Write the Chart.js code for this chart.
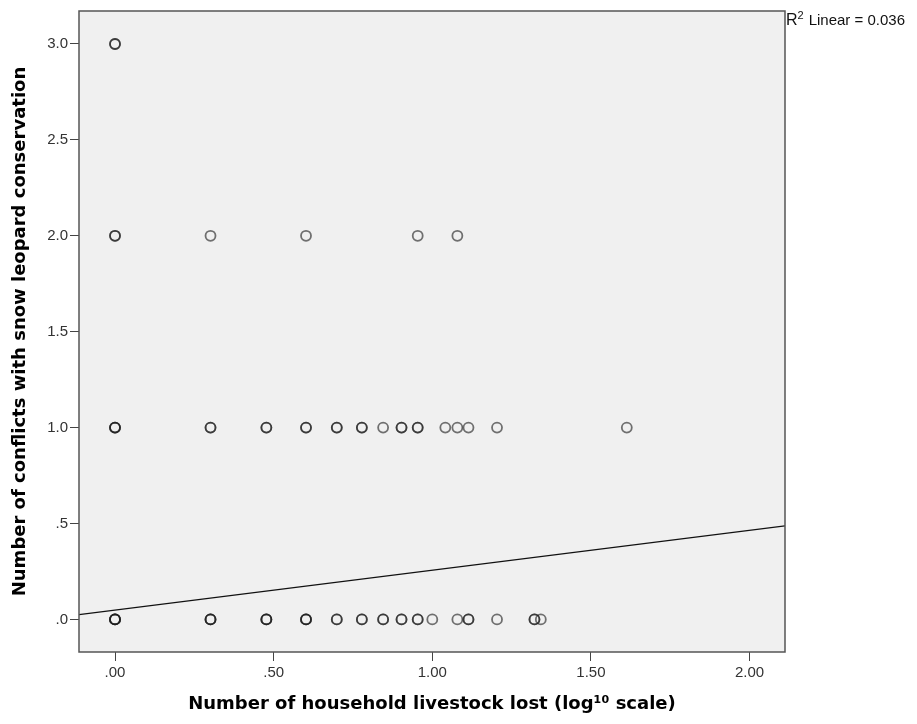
<!DOCTYPE html>
<html>
<head>
<meta charset="utf-8">
<style>
  html, body { margin: 0; padding: 0; background: #fff; }
  #wrap { width: 917px; height: 724px; }
</style>
<script src="https://cdn.jsdelivr.net/npm/chart.js@4.4.1/dist/chart.umd.min.js"></script>
</head>
<body>
<div id="wrap"><canvas id="scatter"></canvas></div>
<script>
// household livestock lost (log10), one entry per household, grouped by conflict count
const lostNoConflict = [0, 0, 0, 0, 0.301, 0.301, 0.301, 0.477, 0.477, 0.477, 0.602, 0.602, 0.602,
  0.699, 0.699, 0.778, 0.778, 0.845, 0.845, 0.903, 0.903, 0.954, 0.954, 1.0, 1.079,
  1.114, 1.114, 1.204, 1.322, 1.322, 1.342];
const lostOneConflict = [0, 0, 0, 0.301, 0.301, 0.477, 0.477, 0.602, 0.602, 0.699, 0.699,
  0.778, 0.778, 0.845, 0.903, 0.903, 0.954, 0.954, 1.041, 1.079, 1.114, 1.204, 1.613];
const lostTwoConflicts = [0, 0, 0.301, 0.602, 0.954, 1.079];
const lostThreeConflicts = [0, 0];
const conflictLevels = [0, 1, 2, 3];

// fitted linear regression
const fitIntercept = 0.048;
const fitSlope = 0.208;
const rSquared = '0.036';

const xRange = [-0.1135, 2.1116];
const yRange = [-0.17, 3.172];
const xTickValues = [0, 0.5, 1, 1.5, 2];
const xTickLabels = ['.00', '.50', '1.00', '1.50', '2.00'];
const yTickValues = [0, 0.5, 1, 1.5, 2, 2.5, 3];
const yTickLabels = ['.0', '.5', '1.0', '1.5', '2.0', '2.5', '3.0'];

const groups = [lostNoConflict, lostOneConflict, lostTwoConflicts, lostThreeConflicts];
const points = [];
groups.forEach((g, i) => g.forEach(x => points.push({ x: x, y: conflictLevels[i] })));

const fitLine = xRange.map(x => ({ x: x, y: fitIntercept + fitSlope * x }));

const tickFont = { family: 'Liberation Sans, Arial, sans-serif', size: 15 };
const titleFont = { family: 'DejaVu Sans, Verdana, sans-serif', size: 18, weight: 'bold' };

const plotFrame = {
  id: 'plotFrame',
  beforeDatasetsDraw(chart) {
    const { ctx, chartArea: a } = chart;
    ctx.save();
    ctx.fillStyle = '#f0f0f0';
    ctx.fillRect(a.left, a.top, a.right - a.left, a.bottom - a.top);
    ctx.restore();
  },
  afterDraw(chart) {
    const { ctx, chartArea: a } = chart;
    ctx.save();
    ctx.strokeStyle = '#555';
    ctx.lineWidth = 1.5;
    ctx.strokeRect(a.left, a.top, a.right - a.left, a.bottom - a.top);
    // R² annotation beside the top right corner
    ctx.fillStyle = '#111';
    ctx.textBaseline = 'alphabetic';
    ctx.font = '16px Liberation Sans, Arial, sans-serif';
    let x = a.right + 1, y = a.top + 14;
    ctx.fillText('R', x, y);
    x += ctx.measureText('R').width;
    ctx.font = '11px Liberation Sans, Arial, sans-serif';
    ctx.fillText('2', x, y - 6);
    x += ctx.measureText('2').width + 5;
    ctx.font = '15px Liberation Sans, Arial, sans-serif';
    ctx.fillText('Linear = ' + rSquared, x, y);
    ctx.restore();
  }
};

new Chart(document.getElementById('scatter'), {
  type: 'scatter',
  data: {
    datasets: [
      {
        type: 'line',
        data: fitLine,
        borderColor: '#111',
        borderWidth: 1.2,
        pointRadius: 0,
        fill: false
      },
      {
        data: points,
        pointRadius: 5,
        pointBorderWidth: 1.8,
        pointBackgroundColor: 'rgba(0,0,0,0)',
        pointBorderColor: 'rgba(25,25,25,0.6)'
      }
    ]
  },
  options: {
    responsive: true,
    maintainAspectRatio: false,
    animation: false,
    layout: { padding: { top: 8.5, right: 132, left: 0, bottom: 0 } },
    plugins: { legend: { display: false }, tooltip: { enabled: false } },
    scales: {
      x: {
        type: 'linear',
        min: xRange[0],
        max: xRange[1],
        afterBuildTicks: s => { s.ticks = xTickValues.map(v => ({ value: v })); },
        afterFit: s => { s.height = 72; },
        ticks: {
          font: tickFont,
          color: '#333',
          padding: 3,
          maxRotation: 0,
          callback: (v) => xTickLabels[xTickValues.indexOf(v)]
        },
        grid: { drawOnChartArea: false, drawTicks: true, tickLength: 9, color: '#444' },
        border: { display: false },
        title: {
          display: true,
          text: 'Number of household livestock lost (log\u00b9\u2070 scale)',
          font: titleFont,
          color: '#000',
          padding: { top: 0, bottom: 9 }
        }
      },
      y: {
        type: 'linear',
        min: yRange[0],
        max: yRange[1],
        afterBuildTicks: s => { s.ticks = yTickValues.map(v => ({ value: v })); },
        afterFit: s => { s.width = 79; },
        ticks: {
          font: tickFont,
          color: '#333',
          padding: 2,
          callback: (v) => yTickLabels[yTickValues.indexOf(v)]
        },
        grid: { drawOnChartArea: false, drawTicks: true, tickLength: 9, color: '#444' },
        border: { display: false },
        title: {
          display: true,
          text: 'Number of conflicts with snow leopard conservation',
          font: titleFont,
          color: '#000',
          padding: { top: 10, bottom: 0 }
        }
      }
    }
  },
  plugins: [plotFrame]
});
</script>
</body>
</html>
